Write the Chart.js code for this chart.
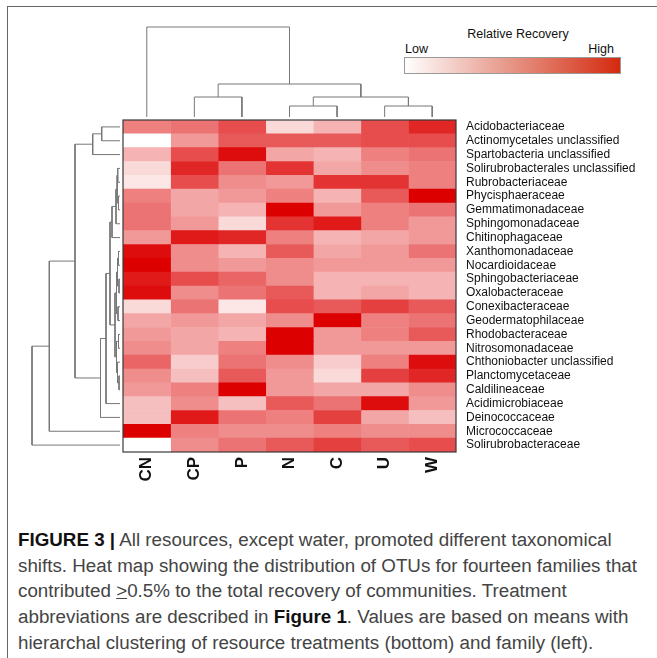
<!DOCTYPE html>
<html>
<head>
<meta charset="utf-8">
<script src="https://cdn.jsdelivr.net/npm/chart.js"></script>
<style>
  body{margin:0;width:657px;height:658px;position:relative;overflow:hidden;background:#fff;font-family:"Liberation Sans",Arial,Helvetica,sans-serif;}
  canvas{position:absolute;}
  #frame{position:absolute;left:7px;top:6px;right:-10px;bottom:-10px;border-left:1px solid #666;border-top:1px solid #666;}
  .lg{position:absolute;font-size:12.5px;color:#111;line-height:14px;}
  #bar{position:absolute;left:404px;top:57px;width:215px;height:15px;border:1px solid #999;background:linear-gradient(to right,#fff,#eaa89c 40%,#df6a55 70%,#d42a10);}
  #caption{position:absolute;left:18px;top:527px;width:640px;font-size:18.8px;line-height:25.7px;color:#444;white-space:nowrap;}
  #caption b{color:#111;}
</style>
</head>
<body>
<div id="frame"></div>
<div class="lg" style="left:418px;top:27px;width:200px;text-align:center;">Relative Recovery</div>
<div class="lg" style="left:405px;top:42px;">Low</div>
<div class="lg" style="left:513px;top:42px;width:101px;text-align:right;">High</div>
<div id="bar"></div>

<canvas id="topTree" width="353" height="110" style="left:113px;top:17px;"></canvas>
<canvas id="sideTree" width="108" height="352" style="left:22px;top:110px;"></canvas>
<canvas id="heat" width="540" height="390" style="left:113px;top:110px;"></canvas>

<div id="caption"><b>FIGURE 3 |</b> All resources, except water, promoted different taxonomical<br>shifts. Heat map showing the distribution of OTUs for fourteen families that<br>contributed <u>&gt;</u>0.5% to the total recovery of communities. Treatment<br>abbreviations are described in <b>Figure 1</b>. Values are based on means with<br>hierarchal clustering of resource treatments (bottom) and family (left).</div>

<script>
const treatments = ['CN', 'CP', 'P', 'N', 'C', 'U', 'W'];
const families = [
  'Acidobacteriaceae', 'Actinomycetales unclassified', 'Spartobacteria unclassified',
  'Solirubrobacterales unclassified', 'Rubrobacteriaceae', 'Phycisphaeraceae',
  'Gemmatimonadaceae', 'Sphingomonadaceae', 'Chitinophagaceae', 'Xanthomonadaceae',
  'Nocardioidaceae', 'Sphingobacteriaceae', 'Oxalobacteraceae', 'Conexibacteraceae',
  'Geodermatophilaceae', 'Rhodobacteraceae', 'Nitrosomonadaceae', 'Chthoniobacter unclassified',
  'Planctomycetaceae', 'Caldilineaceae', 'Acidimicrobiaceae', 'Deinococcaceae',
  'Micrococcaceae', 'Solirubrobacteraceae'
];

// relative recovery (0 = low, 1 = high), one array per treatment, rows in family order
const recoveryCN = [0.5, 0, 0.3, 0.15, 0.1, 0.5, 0.55, 0.55, 0.4, 0.95, 1, 0.9, 0.95, 0.15, 0.35, 0.4, 0.45, 0.6, 0.45, 0.4, 0.25, 0.25, 1, 0];
const recoveryCP = [0.55, 0.4, 0.7, 0.85, 0.7, 0.35, 0.35, 0.4, 0.9, 0.45, 0.45, 0.7, 0.45, 0.55, 0.4, 0.35, 0.35, 0.2, 0.25, 0.5, 0.45, 0.9, 0.5, 0.45];
const recoveryP  = [0.7, 0.65, 0.95, 0.55, 0.45, 0.4, 0.3, 0.15, 0.85, 0.3, 0.4, 0.6, 0.55, 0.1, 0.35, 0.3, 0.5, 0.55, 0.65, 1, 0.25, 0.55, 0.45, 0.55];
const recoveryN  = [0.15, 0.65, 0.35, 0.8, 0.4, 0.5, 1, 0.8, 0.5, 0.65, 0.45, 0.45, 0.65, 0.7, 0.45, 1, 1, 0.45, 0.4, 0.4, 0.65, 0.5, 0.45, 0.65];
const recoveryC  = [0.3, 0.65, 0.3, 0.35, 0.8, 0.3, 0.4, 0.9, 0.3, 0.35, 0.4, 0.3, 0.3, 0.65, 1, 0.4, 0.4, 0.2, 0.15, 0.35, 0.55, 0.75, 0.5, 0.75];
const recoveryU  = [0.7, 0.7, 0.5, 0.45, 0.8, 0.65, 0.5, 0.5, 0.35, 0.4, 0.4, 0.3, 0.35, 0.75, 0.5, 0.5, 0.4, 0.5, 0.75, 0.35, 0.95, 0.35, 0.45, 0.65];
const recoveryW  = [0.85, 0.7, 0.55, 0.5, 0.5, 1, 0.55, 0.4, 0.4, 0.55, 0.4, 0.3, 0.3, 0.65, 0.55, 0.65, 0.4, 0.95, 0.85, 0.45, 0.4, 0.25, 0.45, 0.7];

// clustering: [childA, childB, height]; leaves are 0..n-1, merged nodes get n, n+1, ...
const treatmentLinks = [[1, 2, 20], [3, 4, 11], [5, 6, 11], [8, 9, 20], [7, 10, 33], [0, 11, 90]];
const familyLinks = [
  [0, 1, 18.3], [24, 2, 27.3],
  [3, 4, 2.3], [5, 6, 1.5], [26, 27, 3], [28, 7, 4], [29, 8, 8],
  [9, 10, 1.5], [11, 12, 1], [31, 32, 2.5], [13, 14, 2], [33, 34, 3.5],
  [15, 16, 1.5], [18, 19, 1], [17, 37, 2.5], [36, 38, 3.5], [35, 39, 5],
  [30, 40, 10], [41, 20, 14], [42, 21, 19.5], [25, 43, 45], [44, 22, 70.7], [45, 23, 88]
];

const recovery = [recoveryCN, recoveryCP, recoveryP, recoveryN, recoveryC, recoveryU, recoveryW];
const TREE_COLOR = '#777';

function heatColor(v){
  const r = Math.round(255 - 35*v);
  const gb = Math.round(255*(1 - v));
  return `rgb(${r},${gb},${gb})`;
}

// build one U-shaped link per merge, in (leaf position, height) coords
function treeLinks(nLeaves, links){
  const pos = [], ht = [];
  for(let i=0;i<nLeaves;i++){ pos.push(i); ht.push(0); }
  return links.map(([a, b, h])=>{
    const seg = [[pos[a], ht[a]], [pos[a], h], [pos[b], h], [pos[b], ht[b]]];
    pos.push((pos[a] + pos[b]) / 2);
    ht.push(h);
    return seg;
  });
}

function treeDatasets(segs, horizontal){
  return segs.map(seg=>({
    data: seg.map(([p, h]) => horizontal ? {x:h, y:p} : {x:p, y:h}),
    showLine:true, borderColor:TREE_COLOR, borderWidth:1, pointRadius:0, tension:0, clip:6
  }));
}

const hidden = {display:false};
const noPlugins = {legend:{display:false}, tooltip:{enabled:false}};

new Chart(document.getElementById('topTree'), {
  type:'scatter',
  data:{ datasets: treeDatasets(treeLinks(treatments.length, treatmentLinks), false) },
  options:{
    responsive:false, animation:false, events:[],
    layout:{ padding:10 },
    plugins:noPlugins,
    scales:{
      x:{ type:'linear', min:-0.5, max:treatments.length - 0.5, ...hidden },
      y:{ type:'linear', min:0, max:90, ...hidden }
    }
  }
});

new Chart(document.getElementById('sideTree'), {
  type:'scatter',
  data:{ datasets: treeDatasets(treeLinks(families.length, familyLinks), true) },
  options:{
    responsive:false, animation:false, events:[],
    layout:{ padding:10 },
    plugins:noPlugins,
    scales:{
      x:{ type:'linear', min:0, max:88, reverse:true, ...hidden },
      y:{ type:'linear', min:-0.5, max:families.length - 0.5, reverse:true, ...hidden }
    }
  }
});

const heatFrame = {
  id:'heatFrame',
  afterDatasetsDraw(chart){
    const {ctx, chartArea:a} = chart;
    ctx.save();
    ctx.strokeStyle = '#3a3a3a';
    ctx.lineWidth = 1.2;
    ctx.strokeRect(a.left, a.top, a.width, a.height);
    ctx.restore();
  }
};

new Chart(document.getElementById('heat'), {
  type:'bar',
  data:{
    labels: families,
    datasets: treatments.map((t, j)=>({
      label:t,
      data: families.map(()=>1),
      backgroundColor: recovery[j].map(heatColor),
      borderWidth:0, barPercentage:1, categoryPercentage:1
    }))
  },
  options:{
    indexAxis:'y', responsive:false, animation:false, events:[],
    layout:{ padding:{left:10, top:10, right:0, bottom:0} },
    plugins:noPlugins,
    scales:{
      x:{ stacked:true, min:0, max:treatments.length, display:false },
      cols:{
        axis:'x', type:'category', labels:treatments, position:'bottom', offset:true,
        grid:{display:false, drawTicks:false}, border:{display:false},
        ticks:{ minRotation:90, maxRotation:90, autoSkip:false, padding:5, color:'#111',
                font:{family:'"Liberation Sans", Arial, sans-serif', size:17, weight:'bold'} },
        afterFit(s){ s.height = 48; s.paddingLeft = 0; s.paddingRight = 0; }
      },
      y:{
        stacked:true, position:'right',
        grid:{display:false, drawTicks:false}, border:{display:false},
        ticks:{ autoSkip:false, padding:10, crossAlign:'near', color:'#111',
                font:{family:'"Liberation Sans", Arial, sans-serif', size:12} },
        afterFit(s){ s.width = 197; s.paddingTop = 0; s.paddingBottom = 0; }
      }
    }
  },
  plugins:[heatFrame]
});
</script>
</body>
</html>
